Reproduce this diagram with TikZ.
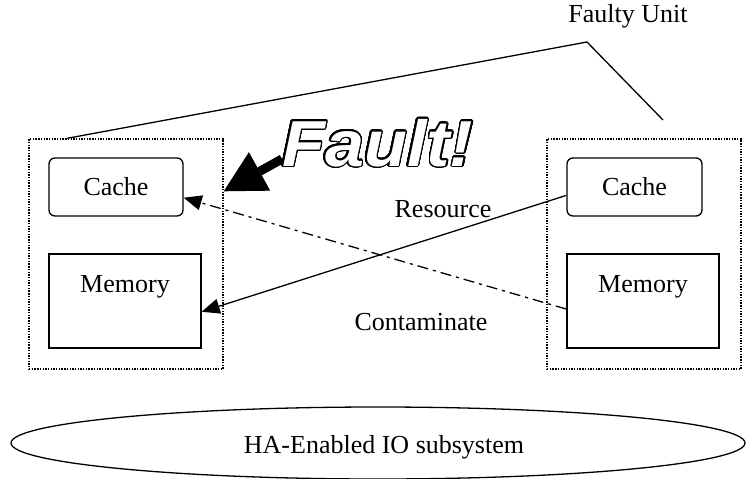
\documentclass[tikz,border=0pt]{standalone}
\usepackage{fontspec}
\setmainfont{Liberation Serif}
\newfontfamily\faultfont{Liberation Sans}
\usepackage{contour}
\contourlength{1.4pt}
\contournumber{32}
\usetikzlibrary{arrows.meta,calc,shapes.geometric}
\tikzset{
  lbl/.style={font=\fontsize{26}{30}\selectfont, inner sep=0pt},
  unitbox/.style={draw, line width=1.4pt, dash pattern=on 1.4pt off 1.3pt, minimum width=194pt, minimum height=230pt, inner sep=0pt},
  cachebox/.style={draw, line width=1.3pt, rounded corners=6pt, minimum width=134pt, minimum height=58pt, inner sep=0pt, font=\fontsize{26}{30}\selectfont},
  membox/.style={draw, line width=1.3pt, minimum width=152pt, minimum height=94pt, inner sep=0pt},
  conn/.style={line width=1.3pt, -{Triangle[length=18pt,width=15pt]}},
  dashconn/.style={conn, dash pattern=on 11pt off 5pt on 3pt off 5pt},
  callout/.style={line width=1.3pt},
  bigarrow/.style={line width=9pt, -{Triangle[length=41pt,width=44pt,line width=0pt]}}
}
\begin{document}
\begin{tikzpicture}[x=1pt,y=-1pt]
\useasboundingbox (0,0) rectangle (747,479);
% units
\node[unitbox] (lunit) at (126,254) {};
\node[unitbox] (runit) at (644,254) {};
% caches
\node[cachebox] (lcache) at (116,187) {Cache};
\node[cachebox, minimum width=135pt] (rcache) at (634.5,187) {Cache};
% memories
\node[membox] (lmem) at (125,301) {};
\node[lbl] (lmemtxt) at (125,287) {Memory};
\node[membox] (rmem) at (643,301) {};
\node[lbl] (rmemtxt) at (643,287) {Memory};
% labels
\node[lbl] (faulty) at (628,16) {Faulty Unit};
\node[lbl] (res) at (443,209) {Resource};
\node[lbl] (cont) at (421,322) {Contaminate};
% callout
\coordinate (apex) at (587,42);
\coordinate (rend) at (663,120);
\draw[callout] ($(lunit.north west)+(39,0)$) -- (apex) -- (rend);
% connectors
\draw[conn] (rcache.187.6) -- (lmem.-8);
\draw[dashconn] (rmem.186.8) -- (lcache.-9.3);
% fault
\node[anchor=base west, inner sep=0pt, font=\faultfont\bfseries\itshape\fontsize{65}{70}\selectfont] (fault) at (282,166) {\scalebox{1.08}[1]{\contour{black}{\textcolor{white}{Fault!}}}};
\coordinate (fstart) at (282,159);
\draw[bigarrow] (fstart) -- ($(lunit.north east)+(0,53)$);
% IO subsystem
\node[draw, ellipse, line width=1.3pt, minimum width=734pt, minimum height=72pt, inner sep=0pt] (io) at (378,443) {};
\node[lbl] (iotxt) at (384,447) {HA-Enabled IO subsystem};
\end{tikzpicture}
\end{document}
